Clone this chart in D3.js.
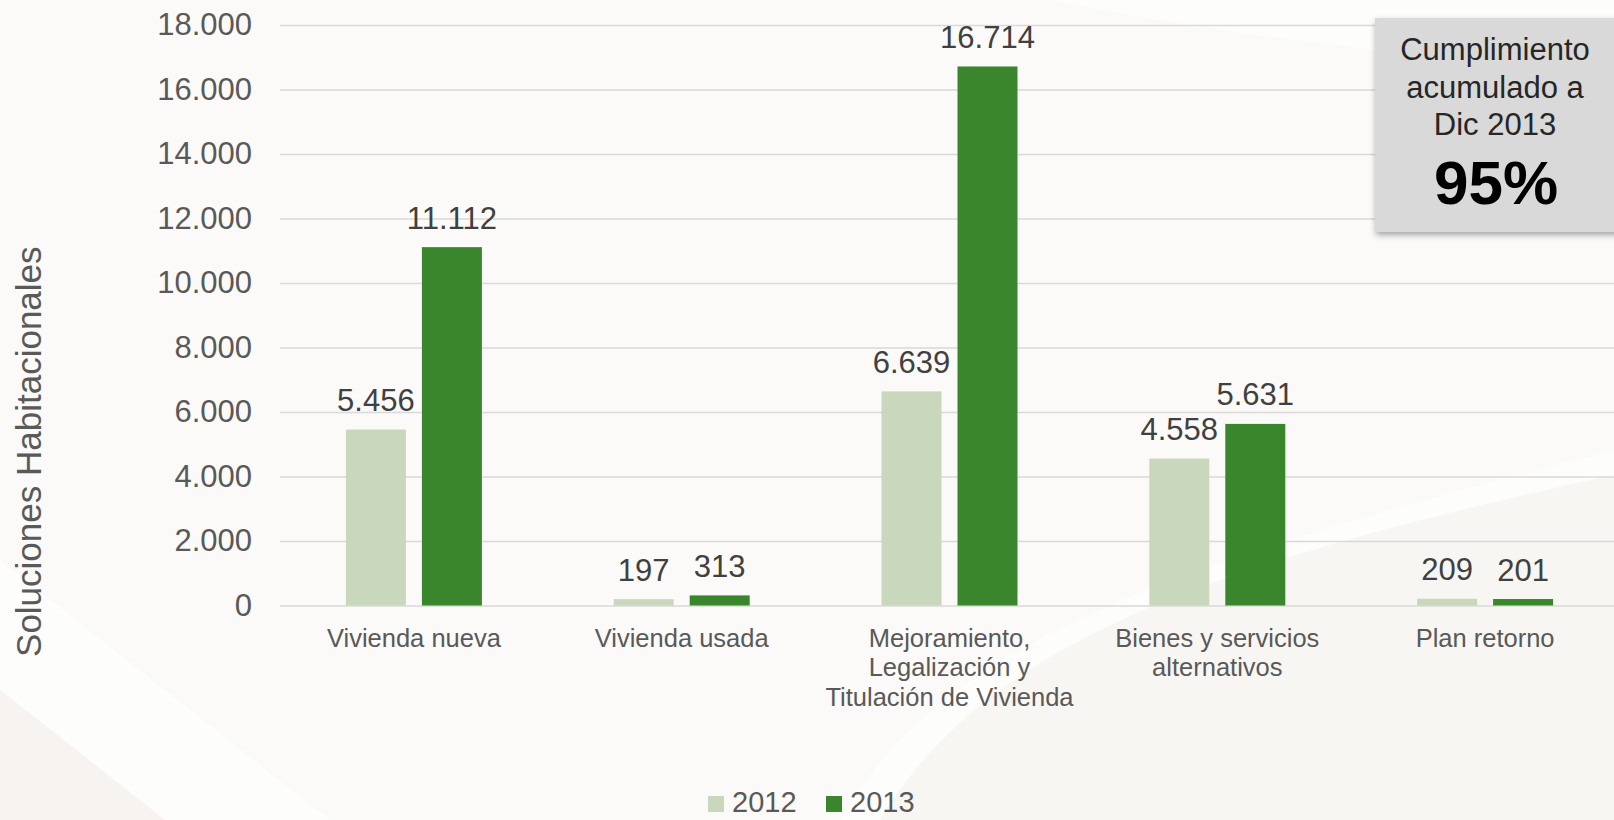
<!DOCTYPE html>
<html>
<head>
<meta charset="utf-8">
<script src="https://cdn.jsdelivr.net/npm/d3@7"></script>
<style>
  html, body { margin: 0; padding: 0; background: #fbfaf8; }
  svg { display: block; font-family: "Liberation Sans", Arial, sans-serif; }
</style>
</head>
<body>
<svg id="chart"></svg>
<script>
const categories = ["Vivienda nueva", "Vivienda usada", "Mejoramiento", "Bienes y servicios", "Plan retorno"];
const categoryLines = [
  ["Vivienda nueva"],
  ["Vivienda usada"],
  ["Mejoramiento,", "Legalización y", "Titulación de Vivienda"],
  ["Bienes y servicios", "alternativos"],
  ["Plan retorno"]
];
const seriesNames = ["2012", "2013"];
const values2012 = [5456, 197, 6639, 4558, 209];
const values2013 = [11112, 313, 16714, 5631, 201];
const yTicks = [0, 2000, 4000, 6000, 8000, 10000, 12000, 14000, 16000, 18000];
const yTitle = "Soluciones Habitacionales";
const boxLines = ["Cumplimiento", "acumulado a", "Dic 2013"];
const boxValue = "95%";

const width = 1614;
const height = 820;
const colors = { "2012": "#c9d7bc", "2013": "#3a862c" };

const locale = d3.formatLocale({ decimal: ",", thousands: ".", grouping: [3], currency: ["", ""] });
const fmt = locale.format(",d");

const svg = d3.select("#chart").attr("width", width).attr("height", height);

drawBackground(svg);

const plot = { left: 280, right: 1619, top: 25, bottom: 605.5 };

const x0 = d3.scaleBand()
  .domain(categories)
  .range([plot.left, plot.right]);

// bars 60px wide with a 16px gap inside each category
const step = 76;
const innerPad = 16 / step;
const outerPad = (x0.bandwidth() / step - 2 + innerPad) / 2;
const x1 = d3.scaleBand()
  .domain(seriesNames)
  .range([0, x0.bandwidth()])
  .paddingInner(innerPad)
  .paddingOuter(outerPad);

const y = d3.scaleLinear()
  .domain([0, 18000])
  .range([plot.bottom, plot.top]);

const rows = categories.map((c, i) => ({
  category: c,
  lines: categoryLines[i],
  values: [
    { key: "2012", value: values2012[i] },
    { key: "2013", value: values2013[i] }
  ]
}));

// grid + y axis
const yAxisG = svg.append("g")
  .attr("transform", `translate(${plot.left},0)`)
  .call(d3.axisLeft(y)
    .tickValues(yTicks)
    .tickSize(-(width - plot.left))
    .tickPadding(28)
    .tickFormat(fmt));
yAxisG.select(".domain").remove();
yAxisG.selectAll(".tick line")
  .attr("stroke", "#d9d9d9")
  .attr("stroke-width", 1.5);
yAxisG.selectAll(".tick text")
  .attr("fill", "#595959")
  .attr("font-size", 31)
  .attr("font-family", "Liberation Sans, Arial, sans-serif");

// y title
svg.append("text")
  .attr("transform", `translate(41,451.7) rotate(-90)`)
  .attr("text-anchor", "middle")
  .attr("font-size", 35)
  .attr("fill", "#595959")
  .text(yTitle);

// bars
const groups = svg.append("g").selectAll("g")
  .data(rows)
  .join("g")
  .attr("transform", d => `translate(${x0(d.category)},0)`);

groups.selectAll("rect")
  .data(d => d.values)
  .join("rect")
  .attr("x", d => x1(d.key))
  .attr("y", d => y(d.value))
  .attr("width", x1.bandwidth())
  .attr("height", d => y(0) - y(d.value))
  .attr("fill", d => colors[d.key]);

groups.selectAll("text.value")
  .data(d => d.values)
  .join("text")
  .attr("class", "value")
  .attr("x", d => x1(d.key) + x1.bandwidth() / 2)
  .attr("y", d => y(d.value) - 18.5)
  .attr("text-anchor", "middle")
  .attr("font-size", 31)
  .attr("fill", "#404040")
  .text(d => fmt(d.value));

// category labels
const catText = svg.append("g").selectAll("text")
  .data(rows)
  .join("text")
  .attr("x", d => x0(d.category) + x0.bandwidth() / 2)
  .attr("y", 646.7)
  .attr("text-anchor", "middle")
  .attr("font-size", 25.5)
  .attr("fill", "#595959");
catText.selectAll("tspan")
  .data(d => d.lines.map(l => ({ l, cx: x0(d.category) + x0.bandwidth() / 2 })))
  .join("tspan")
  .attr("x", d => d.cx)
  .attr("dy", (d, i) => i === 0 ? 0 : 29.5)
  .text(d => d.l);

// legend
const legendX = [708, 826];
const legend = svg.append("g").selectAll("g")
  .data(seriesNames)
  .join("g")
  .attr("transform", (d, i) => `translate(${legendX[i]},796)`);
legend.append("rect")
  .attr("width", 16)
  .attr("height", 16)
  .attr("fill", d => colors[d]);
legend.append("text")
  .attr("x", 24)
  .attr("y", 16)
  .attr("font-size", 29)
  .attr("fill", "#595959")
  .text(d => d);

// callout box
const defs = svg.append("defs");
const f = defs.append("filter").attr("id", "shadow")
  .attr("x", "-20%").attr("y", "-20%").attr("width", "140%").attr("height", "140%");
f.append("feDropShadow")
  .attr("dx", 1).attr("dy", 3).attr("stdDeviation", 3)
  .attr("flood-color", "#000").attr("flood-opacity", 0.35);

const box = svg.append("g");
box.append("rect")
  .attr("x", 1375).attr("y", 18)
  .attr("width", 245).attr("height", 214)
  .attr("fill", "#d9d9d9")
  .attr("filter", "url(#shadow)");
box.selectAll("text.line")
  .data(boxLines)
  .join("text")
  .attr("class", "line")
  .attr("x", 1495)
  .attr("y", (d, i) => 60 + i * 37.5)
  .attr("text-anchor", "middle")
  .attr("font-size", 31)
  .attr("fill", "#262626")
  .text(d => d);
box.append("text")
  .attr("x", 1496)
  .attr("y", 204)
  .attr("text-anchor", "middle")
  .attr("font-size", 62)
  .attr("font-weight", "bold")
  .attr("fill", "#000")
  .text(boxValue);

function drawBackground(svg) {
  const bg = svg.append("g");
  bg.append("rect").attr("width", width).attr("height", height).attr("fill", "#fbfaf8");
  bg.append("path")
    .attr("d", "M0,560 L0,690 L165,820 L330,820 Z")
    .attr("fill", "#ffffff").attr("opacity", 0.5);
  bg.append("path")
    .attr("d", "M0,690 L165,820 L0,820 Z")
    .attr("fill", "#f6f3f0");
  bg.append("path")
    .attr("d", "M840,820 C940,640 1180,560 1614,450 L1614,475 C1200,565 985,645 880,820 Z")
    .attr("fill", "#ffffff").attr("opacity", 0.5);
  bg.append("path")
    .attr("d", "M880,820 C985,645 1200,565 1614,475 L1614,820 Z")
    .attr("fill", "#f8f6f3");
  bg.append("path")
    .attr("d", "M1050,0 C1250,40 1450,60 1614,70 L1614,0 Z")
    .attr("fill", "#ffffff").attr("opacity", 0.5);
}
</script>
</body>
</html>
